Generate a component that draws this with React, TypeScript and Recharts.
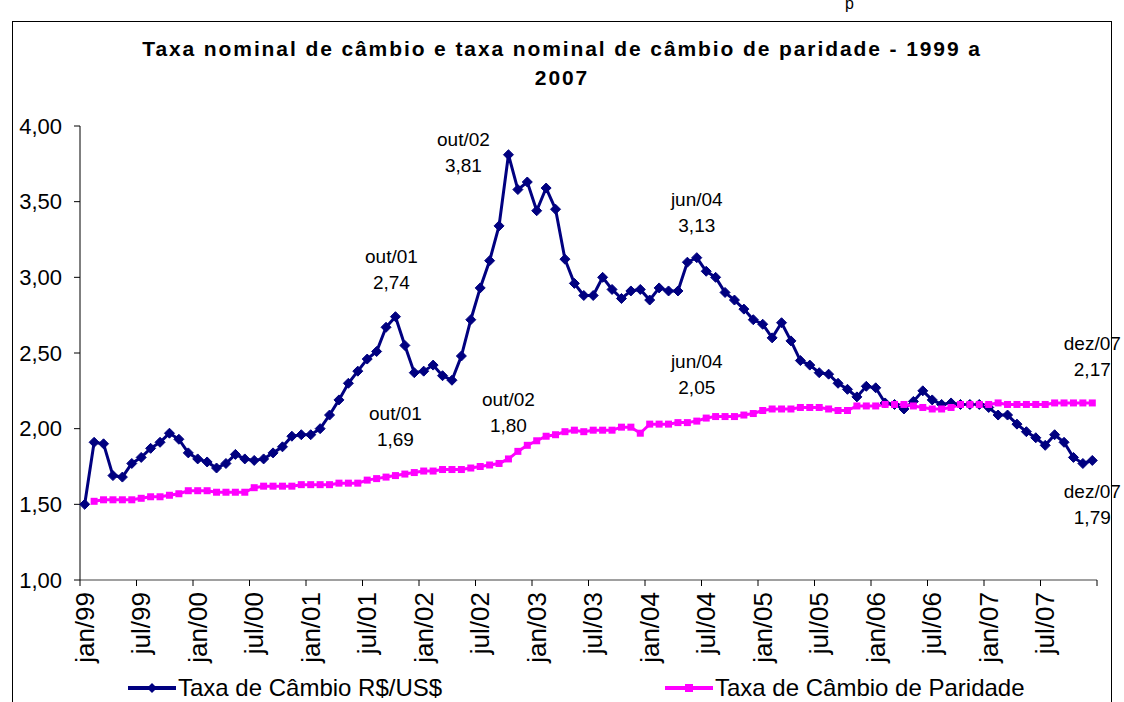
import React from "react"
import { LineChart, Line, XAxis, YAxis, LabelList } from "recharts"

const monthNames = ["jan", "fev", "mar", "abr", "mai", "jun", "jul", "ago", "set", "out", "nov", "dez"]
const years = ["99", "00", "01", "02", "03", "04", "05", "06", "07"]
const months = years.flatMap((y) => monthNames.map((m) => `${m}/${y}`))

// Taxa de Câmbio R$/US$
const cambio = [
  1.50, 1.91, 1.90, 1.69, 1.68, 1.77, 1.81, 1.87, 1.91, 1.97, 1.93, 1.84,
  1.80, 1.78, 1.74, 1.77, 1.83, 1.80, 1.79, 1.80, 1.84, 1.88, 1.95, 1.96,
  1.96, 2.00, 2.09, 2.19, 2.30, 2.38, 2.46, 2.51, 2.67, 2.74, 2.55, 2.37,
  2.38, 2.42, 2.35, 2.32, 2.48, 2.72, 2.93, 3.11, 3.34, 3.81, 3.58, 3.63,
  3.44, 3.59, 3.45, 3.12, 2.96, 2.88, 2.88, 3.00, 2.92, 2.86, 2.91, 2.92,
  2.85, 2.93, 2.91, 2.91, 3.10, 3.13, 3.04, 3.00, 2.90, 2.85, 2.79, 2.72,
  2.69, 2.60, 2.70, 2.58, 2.45, 2.42, 2.37, 2.36, 2.30, 2.26, 2.21, 2.28,
  2.27, 2.17, 2.16, 2.13, 2.18, 2.25, 2.19, 2.16, 2.17, 2.16, 2.16, 2.16,
  2.14, 2.09, 2.09, 2.03, 1.98, 1.94, 1.89, 1.96, 1.91, 1.81, 1.77, 1.79,
]

// Taxa de Câmbio de Paridade (starts in fev/99)
const paridade = [
  null, 1.52, 1.53, 1.53, 1.53, 1.53, 1.54, 1.55, 1.55, 1.56, 1.57, 1.59,
  1.59, 1.59, 1.58, 1.58, 1.58, 1.58, 1.61, 1.62, 1.62, 1.62, 1.62, 1.63,
  1.63, 1.63, 1.63, 1.64, 1.64, 1.64, 1.66, 1.67, 1.68, 1.69, 1.70, 1.71,
  1.72, 1.72, 1.73, 1.73, 1.73, 1.74, 1.75, 1.76, 1.77, 1.80, 1.85, 1.89,
  1.92, 1.95, 1.96, 1.98, 1.99, 1.98, 1.99, 1.99, 1.99, 2.01, 2.01, 1.97,
  2.03, 2.03, 2.03, 2.04, 2.04, 2.05, 2.07, 2.08, 2.08, 2.08, 2.09, 2.10,
  2.12, 2.13, 2.13, 2.13, 2.14, 2.14, 2.14, 2.13, 2.12, 2.12, 2.15, 2.15,
  2.15, 2.16, 2.16, 2.16, 2.15, 2.14, 2.13, 2.13, 2.14, 2.16, 2.16, 2.16,
  2.16, 2.17, 2.16, 2.16, 2.16, 2.16, 2.16, 2.17, 2.17, 2.17, 2.17, 2.17,
]

const yTicks = [1, 1.5, 2, 2.5, 3, 3.5, 4]

// highlighted points, label offsets in px from the point
const cambioNotes = [
  { index: 33, dx: -4, dy: -60 },
  { index: 45, dx: -45, dy: -15 },
  { index: 65, dx: 0, dy: -58 },
  { index: 107, dx: 0, dy: 31 },
]
const paridadeNotes = [
  { index: 33, dx: 0, dy: -62 },
  { index: 45, dx: 0, dy: -60 },
  { index: 65, dx: 0, dy: -60 },
  { index: 107, dx: 0, dy: -60 },
]

const data = months.map((month, i) => ({ month, cambio: cambio[i], paridade: paridade[i] }))

const W = 1124
const H = 702
const margin = { top: 126, right: 27, bottom: 0, left: 10 }
const yAxisWidth = 70
const plotLeft = margin.left + yAxisWidth
const plotRight = W - margin.right
const band = (plotRight - plotLeft) / months.length

const font = "Arial, 'Liberation Sans', sans-serif"
const BLUE = "#000080"
const PINK = "#FF00FF"

const fmt = (v: number) => v.toFixed(2).replace(".", ",")

function Diamond(props: any) {
  const { cx, cy } = props
  if (cx == null || cy == null) return <g />
  const r = 5
  return (
    <polygon
      points={`${cx},${cy - r} ${cx + r},${cy} ${cx},${cy + r} ${cx - r},${cy}`}
      fill={BLUE}
      stroke={BLUE}
    />
  )
}

function Square(props: any) {
  const { cx, cy } = props
  if (cx == null || cy == null) return <g />
  return <rect x={cx - 3.5} y={cy - 3.5} width={7} height={7} fill={PINK} />
}

function XTick(props: any) {
  const { x, y, payload } = props
  const tx = x - band / 2
  const axisY = y - 12
  const last = payload.index === months.length - 6
  return (
    <g>
      <line x1={tx} x2={tx} y1={axisY} y2={axisY + 6} stroke="#000" />
      {last && <line x1={plotRight} x2={plotRight} y1={axisY} y2={axisY + 6} stroke="#000" />}
      <text
        x={x}
        y={y}
        dy="0.35em"
        textAnchor="end"
        transform={`rotate(-90 ${x} ${y})`}
        fontFamily={font}
        fontSize={26}
        fill="#000"
      >
        {payload.value}
      </text>
    </g>
  )
}

function noteRenderer(notes: { index: number; dx: number; dy: number }[]) {
  return (props: any) => {
    const x = props.x ?? props.viewBox?.x
    const y = props.y ?? props.viewBox?.y
    const n = notes.find((k) => k.index === props.index)
    if (!n || x == null || y == null) return null
    const cx = x + n.dx
    return (
      <g fontFamily={font} fontSize={19} fill="#000" textAnchor="middle">
        <text x={cx} y={y + n.dy} dy="0.35em">{months[n.index]}</text>
        <text x={cx} y={y + n.dy + 26} dy="0.35em">{fmt(props.value)}</text>
      </g>
    )
  }
}

function LegendItem({ left, color, label, square }: { left: number; color: string; label: string; square?: boolean }) {
  return (
    <div style={{ position: "absolute", left, top: 674, display: "flex", alignItems: "center", height: 28 }}>
      <svg width={48} height={14}>
        <line x1={0} x2={48} y1={7} y2={7} stroke={color} strokeWidth={4} />
        {square ? (
          <rect x={20} y={3} width={8} height={8} fill={color} />
        ) : (
          <polygon points="24,2 29,7 24,12 19,7" fill={color} />
        )}
      </svg>
      <span style={{ fontFamily: font, fontSize: 24, marginLeft: 2, color: "#000" }}>{label}</span>
    </div>
  )
}

export default function App() {
  return (
    <div style={{ position: "absolute", left: 0, top: 0, width: W, height: H, background: "#fff", overflow: "hidden" }}>
      <svg style={{ position: "absolute", left: 840, top: 0 }} width={20} height={16}>
        <text x={5} y={9} fontFamily={font} fontSize={16} fill="#000">p</text>
      </svg>
      <div
        style={{
          position: "absolute",
          left: 12,
          top: 21,
          width: 1098,
          height: H,
          border: "1px solid #000",
          borderBottom: "none",
        }}
      />
      <div
        style={{
          position: "absolute",
          left: 0,
          top: 34,
          width: W,
          textAlign: "center",
          fontFamily: font,
          fontWeight: "bold",
          fontSize: 21,
          letterSpacing: 1.9,
          lineHeight: "29px",
        }}
      >
        Taxa nominal de câmbio e taxa nominal de câmbio de paridade - 1999 a
        <br />
        2007
      </div>
      <div style={{ position: "absolute", left: 0, top: 0 }}>
        <LineChart width={W} height={H} data={data} margin={margin}>
          <XAxis
            dataKey="month"
            interval={5}
            height={122}
            padding={{ left: band / 2, right: band / 2 }}
            tickLine={false}
            tickSize={6}
            tickMargin={6}
            axisLine={{ stroke: "#808080", strokeWidth: 1.5 }}
            tick={<XTick />}
          />
          <YAxis
            domain={[1, 4]}
            ticks={yTicks}
            width={yAxisWidth}
            tickSize={6}
            tickMargin={12}
            axisLine={{ stroke: "#000" }}
            tickLine={{ stroke: "#000" }}
            tickFormatter={fmt}
            tick={{ fontFamily: font, fontSize: 22, fill: "#000" }}
          />
          <Line
            dataKey="cambio"
            type="linear"
            stroke={BLUE}
            strokeWidth={3}
            dot={<Diamond />}
            isAnimationActive={false}
          >
            <LabelList dataKey="cambio" content={noteRenderer(cambioNotes)} />
          </Line>
          <Line
            dataKey="paridade"
            type="linear"
            stroke={PINK}
            strokeWidth={3}
            dot={<Square />}
            isAnimationActive={false}
          >
            <LabelList dataKey="paridade" content={noteRenderer(paridadeNotes)} />
          </Line>
        </LineChart>
      </div>
      <LegendItem left={128} color={BLUE} label="Taxa de Câmbio R$/US$" />
      <LegendItem left={665} color={PINK} label="Taxa de Câmbio de Paridade" square />
    </div>
  )
}
